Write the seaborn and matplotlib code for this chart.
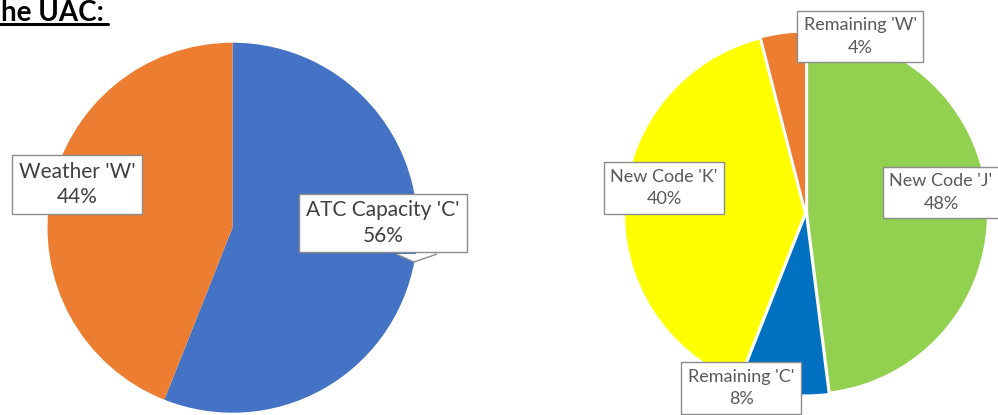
import matplotlib
matplotlib.use("Agg")
import matplotlib.pyplot as plt
import seaborn as sns
from matplotlib.patches import Polygon
from matplotlib.lines import Line2D

# ---- data ----
left_categories = ["ATC Capacity 'C'", "Weather 'W'"]
left_values = [56, 44]
left_colors = ["#4472C4", "#ED7D31"]

right_categories = ["New Code 'J'", "Remaining 'C'", "New Code 'K'", "Remaining 'W'"]
right_values = [48, 8, 40, 4]
right_colors = ["#92D050", "#0070C0", "#FFFF00", "#ED7D31"]

title_text = "he UAC:"

sns.set_theme(style="white")
plt.rcParams['font.family'] = ['Lato', 'DejaVu Sans']

W, H = 998, 415
fig = plt.figure(figsize=(W / 100, H / 100), dpi=100)
fig.patch.set_facecolor("white")


def px_axes(cx, cy, r):
    """axes square of radius r px centred on (cx, cy) px from top-left"""
    return fig.add_axes([(cx - r) / W, 1 - (cy + r) / H, 2 * r / W, 2 * r / H])


# ---- left pie ----
axl = px_axes(232.5, 227.7, 185)
axl.pie(left_values, colors=left_colors, startangle=90, counterclock=False,
        radius=1.0, wedgeprops=dict(linewidth=0))
axl.set_xlim(-1, 1)
axl.set_ylim(-1, 1)
axl.set_aspect("equal")
axl.axis("off")

# ---- right pie ----
axr = px_axes(806, 213.5, 182)
axr.pie(right_values, colors=right_colors, startangle=90, counterclock=False,
        radius=0.99, explode=[0.008] * len(right_values),
        wedgeprops=dict(linewidth=1.0, edgecolor="white"))
axr.set_xlim(-1, 1)
axr.set_ylim(-1, 1)
axr.set_aspect("equal")
axr.axis("off")


def label(px, py, text, size, color, pad, ls):
    fig.text(px / W, 1 - py / H, text, ha="center", va="center",
             fontsize=size, color=color, linespacing=ls,
             bbox=dict(boxstyle=f"square,pad={pad}", facecolor="white",
                       edgecolor="#8c8c8c", linewidth=1.0), zorder=5)


lab_left = {c: f"{c}\n{v}%" for c, v in zip(left_categories, left_values)}
lab_right = {c: f"{c}\n{v}%" for c, v in zip(right_categories, right_values)}

label(77, 184.5, lab_left["Weather 'W'"], 15, "#404040", 0.33, 1.32)
label(383, 223, lab_left["ATC Capacity 'C'"], 15, "#404040", 0.33, 1.32)

# callout pointer for the ATC label
ptr = Polygon([[396 / W, 1 - 254 / H], [414 / W, 1 - 262 / H], [437 / W, 1 - 254 / H]],
              closed=False, transform=fig.transFigure, facecolor="white",
              edgecolor="#8c8c8c", linewidth=1.0, zorder=6)
fig.patches.append(ptr)

label(860, 36.5, lab_right["Remaining 'W'"], 13, "#595959", 0.36, 1.5)
label(664, 188, lab_right["New Code 'K'"], 13, "#595959", 0.36, 1.5)
label(941, 192.5, lab_right["New Code 'J'"], 13, "#595959", 0.36, 1.5)
label(741, 388, lab_right["Remaining 'C'"], 13, "#595959", 0.36, 1.5)

# ---- title fragment ----
fig.text(1 / W, 1 - 21 / H, title_text, ha="left", va="baseline",
         fontsize=20, fontweight="bold", color="black")
fig.add_artist(Line2D([0, 108 / W], [1 - 24.5 / H, 1 - 24.5 / H],
                      transform=fig.transFigure, color="black", linewidth=2.2))

fig.savefig("out.png", dpi=100, facecolor="white")
